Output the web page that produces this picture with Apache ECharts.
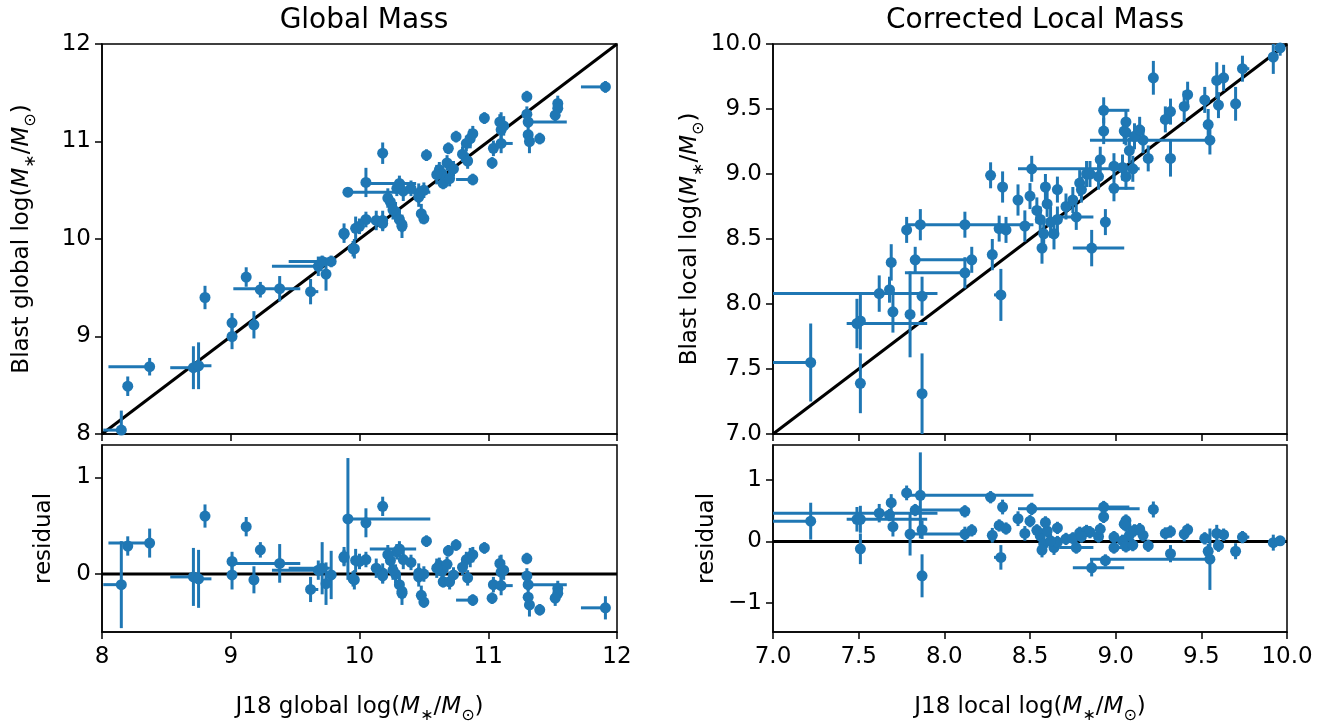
<!DOCTYPE html>
<html><head><meta charset="utf-8">
<script src="https://cdn.jsdelivr.net/npm/echarts@6/dist/echarts.min.js"></script>
<style>html,body{margin:0;padding:0;background:#fff}#c{width:1335px;height:725px}</style>
</head><body><div id="c"></div>
<script>
// ---------- Global mass panel (J18 global vs Blast global) ----------
const globalX = [8.15,8.20,8.37,8.71,8.75,8.80,9.01,9.01,9.18,9.12,
 9.23,9.38,9.62,9.68,9.71,9.74,9.78,9.88,9.95,10.18,
 10.05,9.91,10.05,10.00,9.97,9.88,9.96,10.29,10.34,10.24,
 10.28,10.31,10.33,10.18,10.50,10.46,10.52,10.62,10.68,10.69,
 10.75,10.83,10.86,10.88,10.97,11.10,11.12,11.04,11.03,11.10,
 10.88,10.65,10.64,10.73,10.80,10.50,10.46,10.48,10.31,10.22,
 10.26,10.13,10.18,10.33,11.30,11.54,11.54,11.52,11.31,11.31,
 11.32,11.40,11.91,10.40,10.60,10.70,10.84,11.30,11.09];
const globalY = [8.04,8.49,8.69,8.68,8.70,9.40,9.14,9.00,9.12,9.61,
 9.48,9.49,9.46,9.72,9.77,9.64,9.77,10.05,9.90,10.88,
 10.58,10.48,10.20,10.13,10.11,10.06,9.90,10.52,10.49,10.38,
 10.28,10.20,10.13,10.19,10.21,10.43,10.86,10.71,10.78,10.93,
 11.05,10.98,11.03,11.08,11.24,11.12,11.16,10.93,10.78,10.98,
 10.61,10.57,10.67,10.72,10.87,10.50,10.47,10.26,10.57,10.42,
 10.30,10.19,10.16,10.15,11.46,11.39,11.34,11.27,11.20,11.07,
 11.00,11.03,11.56,10.52,10.66,10.62,10.80,11.28,11.20];
const globalXErrLo = [0.14,0.02,0.32,0.18,0.03,0.02,0.02,0.02,0.02,0.02,
 0.02,0.36,0.02,0.36,0.26,0.02,0.02,0.02,0.02,0.02,
 0.02,0.02,0.02,0.02,0.02,0.02,0.02,0.02,0.02,0.02,
 0.02,0.02,0.02,0.02,0.02,0.02,0.02,0.02,0.02,0.02,
 0.02,0.02,0.02,0.02,0.02,0.02,0.02,0.02,0.02,0.02,
 0.13,0.02,0.02,0.02,0.02,0.02,0.02,0.02,0.23,0.02,
 0.02,0.02,0.02,0.02,0.02,0.02,0.02,0.02,0.00,0.02,
 0.02,0.02,0.19,0.02,0.02,0.02,0.02,0.02,0.02];
const globalXErrHi = [0.03,0.02,0.00,0.04,0.10,0.02,0.02,0.02,0.02,0.02,
 0.02,0.16,0.06,0.01,0.06,0.02,0.02,0.02,0.02,0.02,
 0.02,0.64,0.02,0.02,0.02,0.02,0.02,0.02,0.02,0.02,
 0.02,0.02,0.02,0.02,0.02,0.02,0.02,0.02,0.02,0.02,
 0.02,0.02,0.02,0.02,0.02,0.02,0.02,0.02,0.02,0.09,
 0.03,0.02,0.02,0.02,0.02,0.02,0.02,0.02,0.13,0.02,
 0.02,0.02,0.02,0.02,0.02,0.02,0.02,0.02,0.30,0.02,
 0.02,0.02,0.00,0.02,0.02,0.02,0.02,0.02,0.02];
const globalYErr = [0.20,0.10,0.09,0.22,0.24,0.12,0.10,0.13,0.14,0.10,
 0.08,0.13,0.13,0.10,0.06,0.17,0.06,0.06,0.08,0.11,
 0.15,0.05,0.08,0.08,0.12,0.10,0.10,0.08,0.10,0.08,
 0.10,0.10,0.12,0.10,0.06,0.10,0.06,0.08,0.08,0.06,
 0.06,0.08,0.10,0.08,0.06,0.18,0.10,0.08,0.06,0.10,
 0.06,0.06,0.08,0.08,0.08,0.08,0.10,0.10,0.08,0.10,
 0.10,0.10,0.08,0.08,0.06,0.08,0.08,0.08,0.06,0.10,
 0.12,0.06,0.06,0.08,0.10,0.08,0.08,0.08,0.08];
const globalResid = [-0.11,0.29,0.32,-0.03,-0.05,0.60,0.13,-0.01,-0.06,0.49,
 0.25,0.11,-0.16,0.04,0.06,-0.10,-0.01,0.17,-0.05,0.70,
 0.53,0.57,0.15,0.13,0.14,0.18,-0.06,0.23,0.15,0.14,
 0.00,-0.11,-0.20,0.01,-0.29,-0.03,0.34,0.09,0.10,0.24,
 0.30,0.15,0.17,0.20,0.27,0.02,0.04,-0.11,-0.25,-0.12,
 -0.27,-0.08,0.03,-0.01,0.07,0.00,0.01,-0.22,0.26,0.20,
 0.04,0.06,-0.02,-0.18,0.16,-0.15,-0.20,-0.25,-0.11,-0.24,
 -0.32,-0.37,-0.35,0.12,0.06,-0.08,-0.04,-0.02,0.11];
const globalResidErr = [0.45,0.10,0.15,0.30,0.30,0.12,0.10,0.15,0.14,0.10,
 0.08,0.20,0.13,0.10,0.27,0.22,0.25,0.08,0.08,0.10,
 0.15,0.63,0.08,0.08,0.12,0.10,0.10,0.08,0.10,0.08,
 0.10,0.10,0.12,0.10,0.06,0.10,0.06,0.08,0.08,0.06,
 0.06,0.08,0.10,0.08,0.06,0.18,0.10,0.08,0.06,0.10,
 0.06,0.06,0.08,0.08,0.08,0.08,0.10,0.10,0.08,0.10,
 0.10,0.10,0.08,0.08,0.06,0.08,0.08,0.08,0.06,0.10,
 0.12,0.06,0.12,0.08,0.10,0.08,0.08,0.08,0.08];

// ---------- Corrected local mass panel (J18 local vs Blast local) ----------
const localX = [7.22,7.51,7.87,7.49,7.51,7.80,7.70,7.62,7.68,7.87,
 7.69,7.83,7.78,7.86,8.12,8.12,8.16,8.28,8.33,8.27,
 8.34,8.32,8.36,8.43,8.51,8.56,8.58,8.64,8.66,8.60,
 8.54,8.50,8.71,8.75,8.77,8.94,8.86,8.59,8.66,8.79,
 8.83,8.90,8.93,9.06,9.08,9.04,8.99,9.22,9.59,9.63,
 9.74,9.92,9.96,9.70,9.60,9.52,9.54,9.55,9.40,9.42,
 9.32,9.29,9.32,9.19,9.16,9.11,9.14,9.06,8.93,9.05,
 8.99,8.91,8.85,9.06,8.80,9.10,8.57,8.47,8.62];
const localY = [7.55,7.39,7.31,7.85,7.87,7.92,7.94,8.08,8.11,8.06,
 8.32,8.34,8.57,8.61,8.61,8.24,8.34,8.38,8.07,8.99,
 8.90,8.58,8.57,8.80,9.04,8.65,8.54,8.54,8.65,8.77,
 8.72,8.83,8.75,8.80,8.67,8.63,8.43,8.90,8.88,8.93,
 9.00,8.98,9.33,9.32,9.18,9.05,8.89,9.74,9.72,9.74,
 9.81,9.90,9.97,9.54,9.53,9.57,9.38,9.26,9.52,9.61,
 9.48,9.42,9.12,9.12,9.26,9.29,9.34,9.40,9.49,9.33,
 9.06,9.11,9.00,8.98,8.88,9.04,8.43,8.60,8.63];
const localXErrLo = [0.25,0.02,0.02,0.06,0.02,0.02,0.02,0.65,0.02,0.02,
 0.02,0.03,0.02,0.08,0.02,0.35,0.02,0.02,0.04,0.02,
 0.02,0.02,0.02,0.02,0.08,0.02,0.02,0.02,0.02,0.02,
 0.02,0.02,0.02,0.02,0.10,0.02,0.11,0.02,0.02,0.02,
 0.02,0.02,0.02,0.02,0.02,0.02,0.02,0.02,0.02,0.02,
 0.02,0.02,0.02,0.02,0.02,0.02,0.02,0.70,0.02,0.02,
 0.02,0.02,0.02,0.02,0.02,0.02,0.02,0.02,0.02,0.02,
 0.02,0.02,0.02,0.02,0.02,0.02,0.02,0.02,0.02];
const localXErrHi = [0.00,0.02,0.02,0.41,0.02,0.02,0.02,0.34,0.02,0.02,
 0.02,0.32,0.02,0.66,0.02,0.02,0.02,0.02,0.02,0.02,
 0.02,0.02,0.02,0.02,0.63,0.02,0.02,0.02,0.02,0.02,
 0.02,0.02,0.02,0.02,0.10,0.02,0.19,0.02,0.02,0.02,
 0.02,0.02,0.02,0.02,0.02,0.02,0.12,0.02,0.02,0.02,
 0.04,0.02,0.02,0.02,0.02,0.02,0.02,0.00,0.02,0.02,
 0.02,0.02,0.02,0.02,0.02,0.02,0.02,0.02,0.15,0.02,
 0.02,0.02,0.02,0.02,0.02,0.02,0.02,0.02,0.02];
const localYErr = [0.30,0.23,0.31,0.19,0.22,0.33,0.16,0.14,0.10,0.15,
 0.14,0.10,0.10,0.12,0.10,0.12,0.10,0.12,0.20,0.10,
 0.12,0.10,0.10,0.12,0.10,0.10,0.12,0.12,0.10,0.10,
 0.10,0.10,0.10,0.10,0.10,0.10,0.14,0.10,0.10,0.10,
 0.10,0.10,0.10,0.10,0.10,0.10,0.10,0.13,0.14,0.10,
 0.10,0.13,0.06,0.13,0.10,0.10,0.12,0.11,0.12,0.10,
 0.10,0.10,0.14,0.10,0.10,0.10,0.10,0.10,0.10,0.10,
 0.10,0.10,0.10,0.10,0.10,0.10,0.12,0.12,0.12];
const localResid = [0.33,-0.12,-0.56,0.36,0.36,0.12,0.24,0.46,0.43,0.19,
 0.63,0.51,0.79,0.75,0.49,0.12,0.18,0.10,-0.26,0.72,
 0.56,0.26,0.21,0.37,0.53,0.09,-0.04,-0.10,-0.01,0.17,
 0.18,0.33,0.04,0.05,-0.10,-0.31,-0.43,0.31,0.22,0.14,
 0.17,0.08,0.40,0.26,0.10,0.01,-0.10,0.52,0.13,0.11,
 0.07,-0.02,0.01,-0.16,-0.07,0.05,-0.16,-0.29,0.12,0.19,
 0.16,0.13,-0.20,-0.07,0.10,0.18,0.20,0.34,0.56,0.28,
 0.07,0.20,0.15,-0.08,0.08,-0.06,-0.14,0.13,0.01];
const localResidErr = [0.30,0.25,0.35,0.20,0.22,0.35,0.16,0.15,0.10,0.15,
 0.14,0.10,0.12,0.70,0.10,0.12,0.10,0.12,0.20,0.10,
 0.12,0.10,0.10,0.12,0.10,0.10,0.12,0.12,0.10,0.10,
 0.10,0.10,0.10,0.10,0.10,0.10,0.14,0.10,0.10,0.10,
 0.10,0.10,0.10,0.10,0.10,0.10,0.10,0.13,0.14,0.10,
 0.10,0.13,0.06,0.13,0.10,0.10,0.12,0.50,0.12,0.10,
 0.10,0.10,0.14,0.10,0.10,0.10,0.10,0.10,0.10,0.10,
 0.10,0.10,0.10,0.10,0.10,0.10,0.12,0.12,0.12];

// axis ranges / ticks
const globalRange = [8, 12];
const localRange = [7, 10];
const globalResidRange = [-0.6, 1.335];
const localResidRange = [-1.475, 1.57];
const globalResidTicks = [0, 1];
const localResidTicks = [-1, 0, 1];

const BLUE = '#1f77b4';
const FONT = 'DejaVu Sans';
const TICK = 23, TITLE = 28, LABEL = 23, SUB = 16;
const XMARGIN = 14, YMARGIN = 11;

const grids = [
  {left: 102, top: 44, width: 515, height: 390},
  {left: 102, top: 445, width: 515, height: 187},
  {left: 773, top: 44, width: 514, height: 390},
  {left: 773, top: 445, width: 514, height: 187}
].map(g => Object.assign({show: true, borderColor: '#000', borderWidth: 1.5, backgroundColor: '#fff', containLabel: false}, g));

const fmtMinus = v => String(v).replace('-', '\u2212');

function axisBase(extra) {
  return Object.assign({
    type: 'value',
    axisLine: {show: true, onZero: false, lineStyle: {color: '#000', width: 1.5}},
    axisTick: {show: true, inside: false, length: 7, lineStyle: {color: '#000', width: 1.5}},
    axisLabel: {show: true, color: '#000', fontFamily: FONT, fontSize: TICK, margin: YMARGIN},
    splitLine: {show: false}
  }, extra);
}

const rich = {
  n: {fontFamily: FONT, fontSize: LABEL, color: '#000', lineHeight: 34, verticalAlign: 'middle'},
  i: {fontFamily: FONT, fontSize: LABEL, fontStyle: 'italic', color: '#000', lineHeight: 34, verticalAlign: 'middle'},
  s: {fontFamily: FONT, fontSize: SUB, color: '#000', lineHeight: 28, verticalAlign: 'bottom'}
};
const massLabel = p => `{n|${p} log(}{i|M}{s|\u2217}{n|/}{i|M}{s|\u2299}{n|)}`;
const tickLabel = (margin, extra) => Object.assign({show: true, color: '#000', fontFamily: FONT, fontSize: TICK, margin}, extra);

const xAxis = [
  axisBase({gridIndex: 0, min: globalRange[0], max: globalRange[1], interval: 1, axisLabel: {show: false}}),
  axisBase({gridIndex: 1, min: globalRange[0], max: globalRange[1], interval: 1,
    axisLabel: tickLabel(XMARGIN, {}),
    name: massLabel('J18 global'), nameLocation: 'middle', nameGap: 58, nameTextStyle: {rich}}),
  axisBase({gridIndex: 2, min: localRange[0], max: localRange[1], interval: 0.5, axisLabel: {show: false}}),
  axisBase({gridIndex: 3, min: localRange[0], max: localRange[1], interval: 0.5,
    axisLabel: tickLabel(XMARGIN, {formatter: v => v.toFixed(1)}),
    name: massLabel('J18 local'), nameLocation: 'middle', nameGap: 58, nameTextStyle: {rich}})
];
const yAxis = [
  axisBase({gridIndex: 0, min: globalRange[0], max: globalRange[1], interval: 1,
    name: massLabel('Blast global'), nameLocation: 'middle', nameRotate: 90, nameGap: 63, nameTextStyle: {rich}}),
  axisBase({gridIndex: 1, min: globalResidRange[0], max: globalResidRange[1],
    axisTick: {show: true, inside: false, length: 7, customValues: globalResidTicks, lineStyle: {color: '#000', width: 1.5}},
    axisLabel: tickLabel(YMARGIN, {customValues: globalResidTicks, formatter: fmtMinus}),
    name: 'residual', nameLocation: 'middle', nameRotate: 90, nameGap: 46,
    nameTextStyle: {fontFamily: FONT, fontSize: LABEL, color: '#000'}}),
  axisBase({gridIndex: 2, min: localRange[0], max: localRange[1], interval: 0.5,
    axisLabel: tickLabel(YMARGIN, {formatter: v => v.toFixed(1)}),
    name: massLabel('Blast local'), nameLocation: 'middle', nameRotate: 90, nameGap: 64, nameTextStyle: {rich}}),
  axisBase({gridIndex: 3, min: localResidRange[0], max: localResidRange[1],
    axisTick: {show: true, inside: false, length: 7, customValues: localResidTicks, lineStyle: {color: '#000', width: 1.5}},
    axisLabel: tickLabel(YMARGIN, {customValues: localResidTicks, formatter: fmtMinus}),
    name: 'residual', nameLocation: 'middle', nameRotate: 90, nameGap: 54,
    nameTextStyle: {fontFamily: FONT, fontSize: LABEL, color: '#000'}})
];

function errorBarSeries(idx, xs, ys, xlo, xhi, yerr) {
  return {
    type: 'custom', xAxisIndex: idx, yAxisIndex: idx, z: 3, silent: true,
    encode: {x: 0, y: 1},
    data: xs.map((x, i) => [x, ys[i], xlo[i], xhi[i], yerr[i]]),
    renderItem: (params, api) => {
      const cs = params.coordSys;
      const cx = v => Math.max(cs.x, Math.min(cs.x + cs.width, v));
      const cy = v => Math.max(cs.y, Math.min(cs.y + cs.height, v));
      const x = api.value(0), y = api.value(1);
      const a = api.coord([x - api.value(2), y]), b = api.coord([x + api.value(3), y]);
      const c = api.coord([x, y - api.value(4)]), d = api.coord([x, y + api.value(4)]);
      const st = {stroke: BLUE, lineWidth: 3};
      return {type: 'group', children: [
        {type: 'line', shape: {x1: cx(a[0]), y1: a[1], x2: cx(b[0]), y2: b[1]}, style: st},
        {type: 'line', shape: {x1: c[0], y1: cy(c[1]), x2: d[0], y2: cy(d[1])}, style: st}
      ]};
    }
  };
}
function pointSeries(idx, xs, ys) {
  return {type: 'scatter', xAxisIndex: idx, yAxisIndex: idx, z: 4, silent: true,
    symbol: 'circle', symbolSize: 11, itemStyle: {color: BLUE, opacity: 1},
    data: xs.map((x, i) => [x, ys[i]])};
}
function refLine(idx, pts) {
  return {type: 'line', xAxisIndex: idx, yAxisIndex: idx, z: 2, silent: true, symbol: 'none',
    lineStyle: {color: '#000', width: 3}, data: pts};
}

const series = [
  refLine(0, [[globalRange[0], globalRange[0]], [globalRange[1], globalRange[1]]]),
  errorBarSeries(0, globalX, globalY, globalXErrLo, globalXErrHi, globalYErr),
  pointSeries(0, globalX, globalY),
  refLine(1, [[globalRange[0], 0], [globalRange[1], 0]]),
  errorBarSeries(1, globalX, globalResid, globalXErrLo, globalXErrHi, globalResidErr),
  pointSeries(1, globalX, globalResid),
  refLine(2, [[localRange[0], localRange[0]], [localRange[1], localRange[1]]]),
  errorBarSeries(2, localX, localY, localXErrLo, localXErrHi, localYErr),
  pointSeries(2, localX, localY),
  refLine(3, [[localRange[0], 0], [localRange[1], 0]]),
  errorBarSeries(3, localX, localResid, localXErrLo, localXErrHi, localResidErr),
  pointSeries(3, localX, localResid)
];

const chart = echarts.init(document.getElementById('c'), null, {renderer: 'canvas'});
chart.setOption({
  animation: false,
  backgroundColor: '#fff',
  textStyle: {fontFamily: FONT},
  title: [
    {text: 'Global Mass', left: 359, top: 2, textAlign: 'center', textStyle: {fontFamily: FONT, fontSize: TITLE, fontWeight: 'normal', color: '#000'}},
    {text: 'Corrected Local Mass', left: 1030, top: 2, textAlign: 'center', textStyle: {fontFamily: FONT, fontSize: TITLE, fontWeight: 'normal', color: '#000'}}
  ],
  grid: grids, xAxis, yAxis, series
});
</script></body></html>
